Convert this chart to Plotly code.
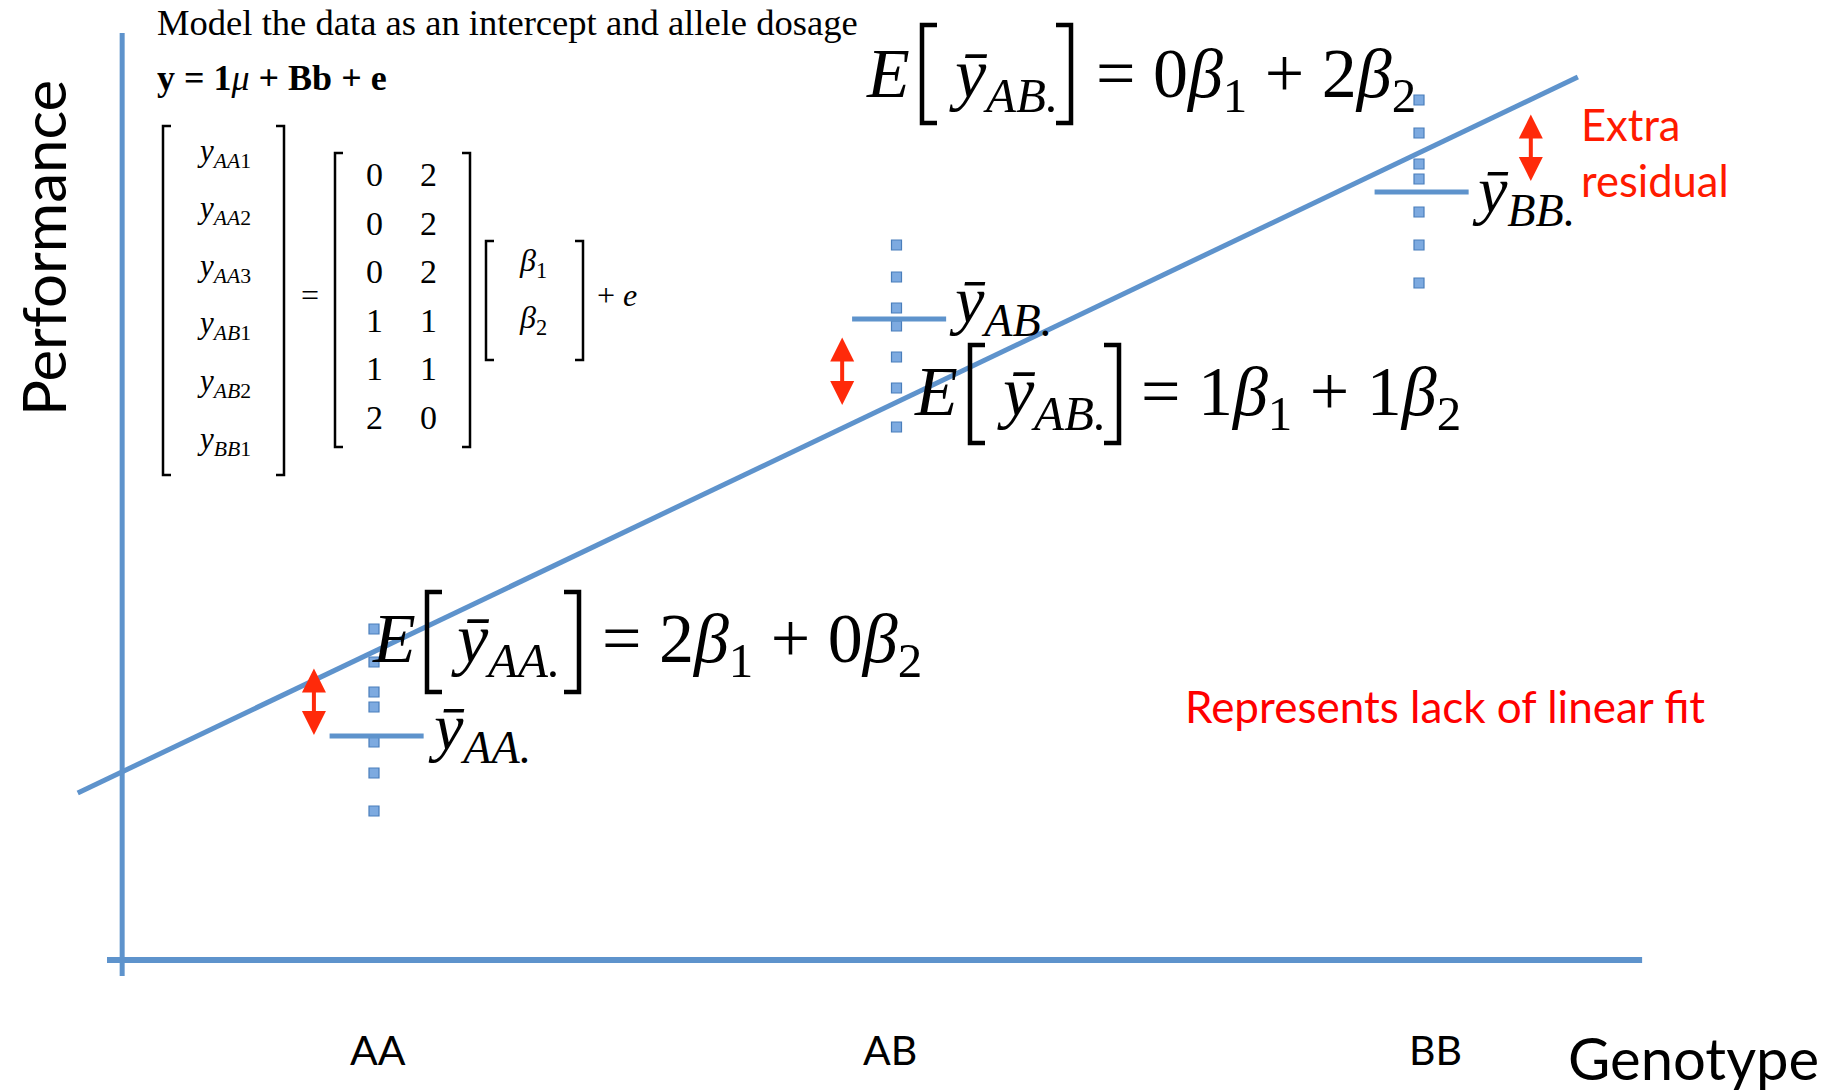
import plotly.graph_objects as go

W, H = 1843, 1092

# ---------------- data ----------------
genotypes = ["AA", "AB", "BB"]
dosage = [0, 1, 2]                                   # x position of each genotype group
perf_AA = [3.31, 2.98, 2.68, 2.53, 2.18, 1.87, 1.49]
perf_AB = [7.15, 6.83, 6.52, 6.34, 6.03, 5.72, 5.33]
perf_BB = [8.60, 8.27, 7.96, 7.81, 7.48, 7.15, 6.77]
group_means = [2.24, 6.41, 7.68]
fit_x = [-0.567, 2.304]
fit_y = [1.67, 8.83]
resid_x = [-0.115, 0.896, 2.214]
resid_from = [2.93, 6.24, 8.47]
resid_to = [2.25, 5.55, 7.79]

obs_labels = ["AA1", "AA2", "AA3", "AB1", "AB2", "BB1"]
design = [[0, 2], [0, 2], [0, 2], [1, 1], [1, 1], [2, 0]]
eq_groups = ["AA.", "AB.", "AB."]
eq_coefs = [[2, 0], [1, 1], [0, 2]]
mean_labels = ["AA.", "AB.", "BB."]

# ---------------- style ----------------
BLUE = "#5E93CC"
RED = "#FF2A0A"
SERIF = "Liberation Serif"
SANS = "Lato"
X_RANGE = [-374 / 522.5, (W - 374) / 522.5]
Y_RANGE = [(960 - H) / 100, 960 / 100]
BAR_L, BAR_R = 0.085, 0.095


def px(x):
    return x / W


def py(y):
    return 1 - y / H


annotations = []
shapes = []


def txt(text, x, y, size, family=SERIF, color="black", xanchor="left", angle=0):
    annotations.append(dict(text=text, x=px(x), y=py(y), xref="paper", yref="paper",
                            showarrow=False, xanchor=xanchor, yanchor="middle",
                            textangle=angle, borderpad=0,
                            font=dict(family=family, size=size, color=color)))


def bracket(stem, top, bot, side, serif, width):
    d = serif if side == "left" else -serif
    path = (f"M {px(stem + d)} {py(top)} L {px(stem)} {py(top)} "
            f"L {px(stem)} {py(bot)} L {px(stem + d)} {py(bot)}")
    shapes.append(dict(type="path", path=path, xref="paper", yref="paper",
                       line=dict(color="black", width=width)))


fig = go.Figure()

# axes lines
shapes.append(dict(type="line", xref="x", yref="y", x0=-0.482, x1=-0.482, y0=-0.16, y1=9.27,
                   line=dict(color=BLUE, width=5), layer="below"))
shapes.append(dict(type="line", xref="x", yref="y", x0=-0.511, x1=2.427, y0=0, y1=0,
                   line=dict(color=BLUE, width=6), layer="below"))

# observations
for g, vals in zip(dosage, [perf_AA, perf_AB, perf_BB]):
    fig.add_trace(go.Scatter(x=[g] * len(vals), y=vals, mode="markers",
                             marker=dict(symbol="square", size=10, color="#7DAAE0",
                                         line=dict(color="#4A7EBB", width=1.2)),
                             showlegend=False, hoverinfo="skip"))

# group means
mx, my = [], []
for g, m in zip(dosage, group_means):
    mx += [g - BAR_L, g + BAR_R, None]
    my += [m, m, None]
fig.add_trace(go.Scatter(x=mx, y=my, mode="lines", line=dict(color=BLUE, width=5),
                         showlegend=False, hoverinfo="skip"))

# fitted line
fig.add_trace(go.Scatter(x=fit_x, y=fit_y, mode="lines", line=dict(color=BLUE, width=5),
                         showlegend=False, hoverinfo="skip"))

# residual arrows
for x, y0, y1 in zip(resid_x, resid_from, resid_to):
    annotations.append(dict(x=x, y=y1, ax=x, ay=y0, xref="x", yref="y", axref="x", ayref="y",
                            text="", showarrow=True, arrowside="end+start",
                            arrowhead=2, startarrowhead=2, arrowsize=1.2, startarrowsize=1.2,
                            arrowwidth=4, arrowcolor=RED, standoff=0, startstandoff=0))

# ---------------- text ----------------
txt("Model the data as an intercept and allele dosage", 156, 22, 36.6)
txt("<b>y = 1</b><i>μ</i><b> + Bb + e</b>", 156, 78, 36)

# matrix equation
for i, lab in enumerate(obs_labels):
    txt(f"<i>y</i><sub><i>{lab[:2]}</i>{lab[2:]}</sub>", 196, 152.6 + 57.6 * i, 31)
bracket(163, 126, 475, "left", 8, 2.5)
bracket(284, 126, 475, "right", 8, 2.5)
txt("=", 300, 295, 32)
for i, row in enumerate(design):
    for j, v in enumerate(row):
        txt(str(v), 374 + 54 * j, 175 + 48.4 * i, 34, xanchor="center")
bracket(335, 153, 447, "left", 8, 2.5)
bracket(470, 153, 447, "right", 8, 2.5)
for k in range(2):
    txt(f"<i>β</i><sub>{k + 1}</sub>", 518, 262 + 57 * k, 32)
bracket(486, 241, 360, "left", 8, 2.5)
bracket(583, 241, 360, "right", 8, 2.5)
txt("+ <i>e</i>", 596, 295, 32)

# expectation equations
BIG = 70
big_pos = [  # E_left, ybar_left, eq_left, baseline, [stem, ]stem, top, bottom
    (371, 450, 601, 662, 427, 579, 592, 692),
    (913, 996, 1140, 415, 970, 1119, 345, 443),
    (865, 948, 1095, 97, 922, 1071, 25, 123),
]
for grp, (c1, c2), (xe, xy, xq, base, lb, rb, top, bot) in zip(eq_groups, eq_coefs, big_pos):
    txt("<i>E</i>", xe, base - 0.3375 * BIG, BIG)
    txt(f"<i>ȳ</i><sub><i>{grp}</i></sub>", xy, base - 0.264 * BIG, BIG)
    txt(f"= {c1}<i>β</i><sub>1</sub> + {c2}<i>β</i><sub>2</sub>", xq, base - 0.264 * BIG, BIG)
    bracket(lb, top, bot, "left", 15, 4.5)
    bracket(rb, top, bot, "right", 15, 4.5)

# mean labels
MEAN = 66
for lab, (xl, base) in zip(mean_labels, [(427, 749), (948, 322), (1471, 212)]):
    txt(f"<i>ȳ</i><sub><i>{lab}</i></sub>", xl, base - 0.264 * MEAN, MEAN)

# red notes
txt("Extra", 1580, 124, 43.5, family=SANS, color="#FF1A00")
txt("residual", 1580, 180, 43.5, family=SANS, color="#FF1A00")
txt("Represents lack of linear fit", 1184, 706, 44, family=SANS, color="#FF0000")

# axis titles and genotype labels
txt("Performance", 43, 248, 60, family=SANS, angle=-90, xanchor="center")
txt("Genotype", 1567, 1057, 58, family=SANS)
for lab, xc in zip(genotypes, [378, 890, 1435]):
    txt(lab, xc, 1049, 41, family=SANS, xanchor="center")

fig.update_layout(
    width=W, height=H, margin=dict(l=0, r=0, t=0, b=0),
    paper_bgcolor="white", plot_bgcolor="white",
    xaxis=dict(range=X_RANGE, visible=False, fixedrange=True),
    yaxis=dict(range=Y_RANGE, visible=False, fixedrange=True),
    annotations=annotations, shapes=shapes, showlegend=False,
)

fig.write_html("out.html", config={"displayModeBar": False},
               post_script="document.body.style.margin='0';document.body.style.overflow='hidden';")
